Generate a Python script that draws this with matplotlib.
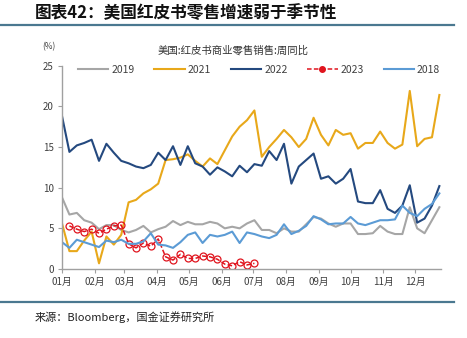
import numpy as np
import matplotlib
matplotlib.use("Agg")
import matplotlib.pyplot as plt
from matplotlib.lines import Line2D

plt.rcParams['font.family'] = ['Noto Sans CJK SC', 'DejaVu Sans']

# 周度数据（周序号 0..51）
weeks = np.arange(52)

y2019 = [8.8, 6.7, 6.9, 6.0, 5.7, 4.9, 5.4, 5.4, 4.8, 4.5, 4.8, 5.3, 4.5, 4.9, 5.2, 5.9,
         5.4, 5.8, 5.5, 5.5, 5.8, 5.6, 5.0, 5.2, 5.0, 5.6, 6.0, 4.8, 4.8, 4.4, 5.0, 4.6,
         4.6, 5.5, 6.4, 6.2, 5.6, 5.2, 5.6, 5.6, 4.3, 4.3, 4.4, 5.3, 4.6, 4.3, 4.3, 7.6,
         5.0, 4.4, 6.0, 7.6]

y2021 = [5.6, 2.2, 2.2, 3.5, 4.6, 0.7, 4.0, 3.0, 4.2, 8.2, 8.5, 9.3, 9.8, 10.5, 13.4, 13.5,
         13.7, 14.1, 13.3, 12.6, 13.6, 12.9, 14.6, 16.3, 17.5, 18.3, 19.5, 13.8, 15.0, 16.0, 17.1, 16.2,
         15.0, 16.0, 18.6, 16.5, 15.2, 17.1, 16.5, 16.7, 14.8, 15.5, 15.5, 16.9, 15.5, 14.8, 15.3, 21.9,
         15.1, 16.0, 16.2, 21.4]

y2022 = [18.8, 14.4, 15.2, 15.5, 15.9, 13.3, 15.4, 14.3, 13.3, 13.0, 12.6, 12.4, 12.8, 14.3, 13.4, 15.1,
         12.8, 15.1, 13.0, 12.6, 11.6, 12.5, 12.0, 11.4, 12.7, 11.9, 12.9, 12.7, 14.5, 13.4, 15.4, 10.5,
         12.6, 13.4, 14.2, 11.1, 11.4, 10.5, 11.1, 12.3, 8.3, 8.1, 8.1, 9.7, 7.4, 6.9, 7.8, 10.3,
         5.7, 6.2, 7.8, 10.2]

weeks2023 = np.arange(1, 27)
y2023 = [5.3, 4.9, 4.6, 4.9, 4.4, 4.9, 5.3, 5.4, 3.1, 2.6, 3.2, 2.8, 3.7, 1.5, 1.1, 1.8,
         1.3, 1.3, 1.6, 1.5, 1.2, 0.6, 0.4, 0.9, 0.5, 0.7]

y2018 = [3.3, 2.6, 3.6, 3.3, 3.0, 2.7, 3.5, 3.3, 3.6, 3.1, 3.1, 3.4, 4.4, 3.0, 2.9, 2.6,
         3.3, 4.2, 4.5, 3.2, 4.2, 4.0, 4.2, 4.6, 3.2, 4.5, 4.3, 4.0, 3.8, 4.2, 5.5, 4.3,
         4.7, 5.3, 6.5, 6.1, 5.5, 5.6, 5.6, 6.4, 5.6, 5.4, 5.7, 6.0, 6.0, 6.1, 7.8, 6.9,
         6.5, 7.4, 8.0, 9.3]

month_labels = ['01月', '02月', '03月', '04月', '05月', '06月',
                '07月', '08月', '09月', '10月', '11月', '12月']
month_start_doy = [0, 31, 59, 90, 120, 151, 181, 212, 243, 273, 304, 334]

fig = plt.figure(figsize=(4.67, 3.38), dpi=100)
ax = fig.add_axes([0.1328, 0.2041, 0.944 - 0.1328, 0.8056 - 0.2041])

lw = 1.5
ax.plot(weeks, y2019, color='#a6a6a6', lw=lw)
ax.plot(weeks, y2021, color='#e8a81a', lw=lw)
ax.plot(weeks, y2022, color='#24497f', lw=lw)
ax.plot(weeks2023, y2023, color='#e0141e', lw=1.1, ls=(0, (3, 1.5)), marker='o',
        markersize=5, markerfacecolor='none', markeredgewidth=0.9)
ax.plot(weeks, y2018, color='#5b9bd5', lw=lw)

# 图例（2023 的图例标记为实心）
handles = [
    Line2D([], [], color='#a6a6a6', lw=lw),
    Line2D([], [], color='#e8a81a', lw=lw),
    Line2D([], [], color='#24497f', lw=lw),
    Line2D([], [], color='#e0141e', lw=1.1, ls=(0, (3, 1.5)), marker='o', markersize=4),
    Line2D([], [], color='#5b9bd5', lw=lw),
]
labels = ['2019', '2021', '2022', '2023', '2018']

ax.set_ylim(0, 25)
ax.set_xlim(0, 51.2)
ax.set_yticks([0, 5, 10, 15, 20, 25])
ax.set_xticks([d / 7 for d in month_start_doy])
ax.set_xticklabels(month_labels)

for s in ['top', 'right']:
    ax.spines[s].set_visible(False)
for s in ['left', 'bottom']:
    ax.spines[s].set_color('#a0a0a0')
    ax.spines[s].set_linewidth(1.0)
ax.tick_params(axis='both', colors='#a0a0a0', length=3, width=0.8,
               labelsize=7, labelcolor='#404040', pad=3)

fig.legend(handles, labels, loc='center', bbox_to_anchor=(0.555, 0.793), ncol=5, frameon=False,
           fontsize=7.5, handlelength=2.9, columnspacing=1.9, handletextpad=0.3,
           labelcolor='#404040')

fig.text(0.075, 0.963, '图表42：美国红皮书零售增速弱于季节性', fontsize=12,
         fontweight='bold', fontstyle='italic', va='center', ha='left', color='#111111')
fig.add_artist(Line2D([0, 0.972], [0.926, 0.926], color='#4a7890', lw=1.6))
fig.text(0.5, 0.852, '美国:红皮书商业零售销售:周同比', fontsize=7.5, ha='center', va='center',
         color='#333333')
fig.text(0.09, 0.862, '(%)', fontsize=6, ha='left', va='center', color='#404040')
fig.add_artist(Line2D([0, 0.972], [0.1065, 0.1065], color='#4a7890', lw=1.6))
fig.text(0.075, 0.062, '来源：Bloomberg，国金证券研究所', fontsize=8, ha='left', va='center',
         color='#222222')

fig.savefig('out.png', dpi=100)
